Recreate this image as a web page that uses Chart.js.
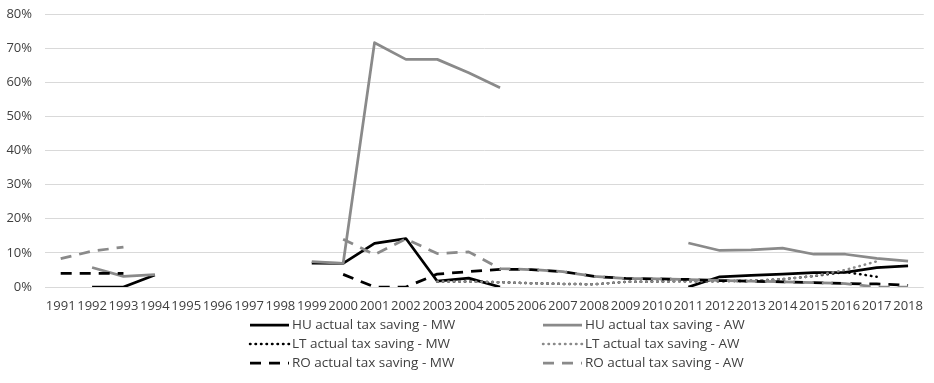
<!DOCTYPE html>
<html>
<head>
<meta charset="utf-8">
<script src="https://cdn.jsdelivr.net/npm/chart.js@4"></script>
<style>
  html, body { margin: 0; padding: 0; background: #fff; }
  #wrap { width: 934px; height: 383px; }
</style>
</head>
<body>
<div id="wrap"><canvas id="taxChart"></canvas></div>
<script>
var years = ['1991','1992','1993','1994','1995','1996','1997','1998','1999','2000',
             '2001','2002','2003','2004','2005','2006','2007','2008','2009','2010',
             '2011','2012','2013','2014','2015','2016','2017','2018'];

// values in percent, null = no data
var huMW = [null, 0, 0, 3.5, null, null, null, null, 7.0, 6.9,
            12.8, 14.2, 1.7, 2.6, 0, null, null, null, null, null,
            0, 3.0, 3.4, 3.8, 4.2, 4.3, 5.7, 6.2];
var huAW = [null, 5.7, 3.1, 3.6, null, null, null, null, 7.4, 6.9,
            71.6, 66.7, 66.7, 62.8, 58.4, null, null, null, null, null,
            12.9, 10.7, 10.9, 11.4, 9.6, 9.6, 8.4, 7.6];
var ltMW = [null, null, null, null, null, null, null, null, null, null,
            null, null, 1.6, 1.6, 1.4, 1.1, 0.9, 0.8, 1.5, 1.6,
            1.7, 1.7, 1.8, 2.3, 3.2, 4.4, 3.0, null];
var ltAW = [null, null, null, null, null, null, null, null, null, null,
            null, null, 1.6, 1.6, 1.4, 1.1, 0.9, 0.8, 1.5, 1.6,
            1.7, 1.7, 1.8, 2.3, 3.2, 5.0, 7.5, null];
var roMW = [4.0, 4.0, 4.0, null, null, null, null, null, null, 3.7,
            0, 0, 3.8, 4.5, 5.2, 5.1, 4.5, 3.1, 2.5, 2.4,
            2.2, 1.9, 1.7, 1.5, 1.3, 1.0, 0.9, 0.5];
var roAW = [8.3, 10.5, 11.7, null, null, null, null, null, null, 14.0,
            9.5, 14.1, 9.8, 10.3, 5.4, 5.1, 4.5, 3.1, 2.5, 2.4,
            2.2, 1.9, 1.7, 1.5, 1.3, 1.0, 0, 0];

var black = '#000000';
var grey = '#8a8a8a';
var textColor = '#404040';
var fontFamily = '"Open Sans", "Liberation Sans", sans-serif';

function makeSet(label, data, color, dash, order) {
    return {
        label: label,
        data: data,
        borderColor: color,
        backgroundColor: color,
        borderWidth: dash === 'dot' ? 2.5 : 2.75,
        borderDash: dash === 'dot' ? [0.5, 5] : (dash === 'dash' ? [11, 8] : []),
        borderCapStyle: dash === 'dot' ? 'round' : 'butt',
        borderJoinStyle: 'round',
        pointRadius: 0,
        tension: 0,
        spanGaps: false,
        order: order
    };
}

// custom two-column legend like the Excel original
var legendPlugin = {
    id: 'twoColLegend',
    afterDraw: function(c) {
        var ctx = c.ctx;
        var cols = [250, 543];
        var rows = [325, 344, 363];
        ctx.save();
        ctx.font = '13.5px ' + fontFamily;
        ctx.textBaseline = 'middle';
        ctx.fillStyle = textColor;
        c.data.datasets.forEach(function(ds, i) {
            var x = cols[i % 2];
            var y = rows[Math.floor(i / 2)];
            ctx.save();
            ctx.strokeStyle = ds.borderColor;
            ctx.lineWidth = ds.borderWidth;
            ctx.lineCap = ds.borderCapStyle;
            ctx.setLineDash(ds.borderDash);
            ctx.beginPath();
            ctx.moveTo(x, y);
            ctx.lineTo(x + 39, y);
            ctx.stroke();
            ctx.restore();
            ctx.fillText(ds.label, x + 42, y);
        });
        ctx.restore();
    }
};

var chart = new Chart(document.getElementById('taxChart'), {
    type: 'line',
    data: {
        labels: years,
        datasets: [
            makeSet('HU actual tax saving - MW', huMW, black, 'solid', 5),
            makeSet('HU actual tax saving - AW', huAW, grey, 'solid', 4),
            makeSet('LT actual tax saving - MW', ltMW, black, 'dot', 3),
            makeSet('LT actual tax saving - AW', ltAW, grey, 'dot', 2),
            makeSet('RO actual tax saving - MW', roMW, black, 'dash', 1),
            makeSet('RO actual tax saving - AW', roAW, grey, 'dash', 0)
        ]
    },
    options: {
        responsive: true,
        maintainAspectRatio: false,
        animation: false,
        layout: { padding: { top: 14, right: 4, bottom: 66, left: 0 } },
        plugins: {
            legend: { display: false },
            tooltip: { enabled: false }
        },
        scales: {
            x: {
                offset: true,
                grid: { display: false, drawTicks: false },
                border: { display: false },
                ticks: {
                    autoSkip: false,
                    maxRotation: 0,
                    padding: 11,
                    color: textColor,
                    font: { family: fontFamily, size: 13 }
                },
                afterFit: function(scale) { scale.height = 30; }
            },
            y: {
                min: 0,
                max: 80,
                grid: { color: '#d9d9d9', lineWidth: 1, drawTicks: false },
                border: { display: false },
                ticks: {
                    stepSize: 10,
                    padding: 13,
                    color: textColor,
                    font: { family: fontFamily, size: 13 },
                    callback: function(v) { return v + '%'; }
                },
                afterFit: function(scale) {
                    scale.width = 45;
                    scale.paddingTop = 0;
                    scale.paddingBottom = 0;
                }
            }
        }
    },
    plugins: [legendPlugin]
});
</script>
</body>
</html>
